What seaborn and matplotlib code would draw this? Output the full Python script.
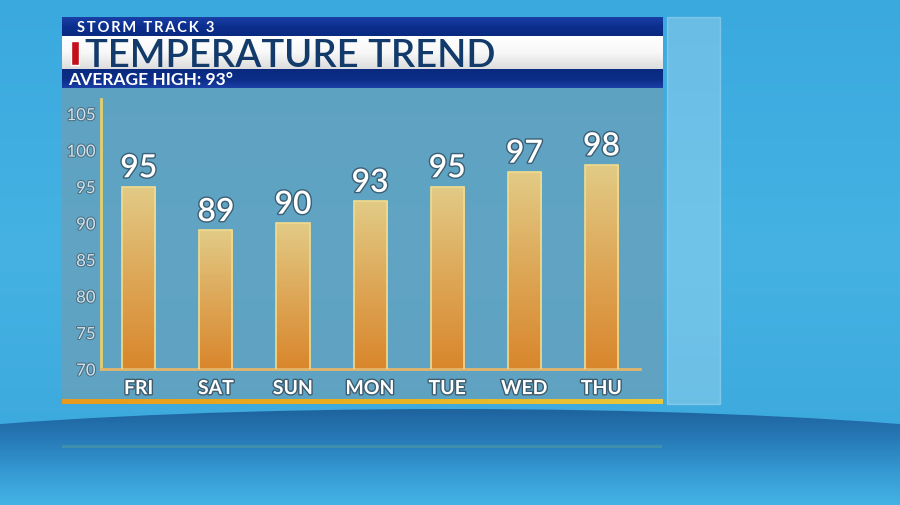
import numpy as np
import pandas as pd
import matplotlib
matplotlib.use("Agg")
import matplotlib.pyplot as plt
import matplotlib.patheffects as pe
from matplotlib.colors import LinearSegmentedColormap
from matplotlib.patches import Rectangle, Ellipse
import seaborn as sns

# data
days = ["FRI", "SAT", "SUN", "MON", "TUE", "WED", "THU"]
highs = [95, 89, 90, 93, 95, 97, 98]
yticks = [70, 75, 80, 85, 90, 95, 100, 105]
title = "TEMPERATURE TREND"
station = "STORM TRACK 3"
subtitle = "AVERAGE HIGH: 93\u00b0"

df = pd.DataFrame({"day": days, "high": highs})

sns.set_style("white")
plt.rcParams["font.family"] = ["Lato", "DejaVu Sans"]

W, H = 900, 506
fig = plt.figure(figsize=(9, 5.06), dpi=100)

def fx(px):
    return px / W

def fy(py):
    return 1 - py / H

def vgrad(a, cols, extent, z, clip=None):
    cm = LinearSegmentedColormap.from_list("g", cols)
    im = a.imshow(np.linspace(0, 1, 256).reshape(-1, 1), aspect="auto", cmap=cm,
                  extent=extent, zorder=z)
    if clip is not None:
        im.set_clip_path(clip)
    return im

def hgrad(a, cols, extent, z):
    cm = LinearSegmentedColormap.from_list("h", cols)
    return a.imshow(np.linspace(0, 1, 256).reshape(1, -1), aspect="auto", cmap=cm,
                    extent=extent, zorder=z)

# background water
bg = fig.add_axes([0, 0, 1, 1])
bg.set_xlim(0, W)
bg.set_ylim(H, 0)
bg.axis("off")
vgrad(bg, ["#3aa9de", "#45b2e3", "#3aa6dc"], [0, W, H, 0], 0)
# floor
ell = Ellipse((450, 475), 1408, 130, facecolor="none", edgecolor="none")
bg.add_patch(ell)
vgrad(bg, ["#1d609a", "#2679b6", "#3599d2", "#45b3e6"], [0, W, H, 405], 1, clip=ell)
bg.add_patch(Rectangle((62, 446), 600, 3, facecolor="#6aa98a", edgecolor="none",
                       alpha=0.35, zorder=2))

# side glass
bg.add_patch(Rectangle((667, 18), 53, 387, facecolor="#d8eef8", alpha=0.3,
                       edgecolor="#e4f4fb", lw=1, zorder=2))
# chart panel
bg.add_patch(Rectangle((62, 89), 601, 316, facecolor="#6a9fb8", edgecolor="none",
                       alpha=0.75, zorder=2))
hgrad(bg, ["#e89a1c", "#eab020", "#e9c83a"], [62, 663, 405, 400], 3)
# header bars
vgrad(bg, ["#1a3fa6", "#0c2f8e", "#0a2a80"], [62, 663, 37, 18], 3)
vgrad(bg, ["#ffffff", "#f8f8f8", "#dcdcdc"], [62, 663, 70, 37], 3)
vgrad(bg, ["#0a2a80", "#0b2d86", "#1a3fa6"], [62, 663, 89, 70], 3)
bg.add_patch(Rectangle((71, 42), 8, 24, facecolor="#c4101a", zorder=4))
bg.text(77, 28, "\u2009".join(station), color="white", fontsize=10.5, fontweight="bold",
        va="center", ha="left", zorder=5)
bg.text(85, 56, title, color="#123b6b", fontsize=27.5, fontweight="semibold",
        va="center", ha="left", zorder=5)
bg.text(68, 80, subtitle, color="white", fontsize=12.5, fontweight="bold",
        va="center", ha="left", zorder=5)

# bar chart
ax = fig.add_axes([fx(101), fy(370), fx(640) - fx(101), (370 - 100) / H])
ax.patch.set_alpha(0)
sns.barplot(data=df, x="day", y="high", order=days, width=0.43, ax=ax,
            color="#e0a14a", edgecolor="#f2dc8e", linewidth=1.2)
ax.set_ylim(70, 107)
ax.set_xlim(-0.49, 6.5)

for p in ax.patches:
    x0 = p.get_x()
    x1 = x0 + p.get_width()
    h = p.get_height()
    vgrad(ax, ["#e2cb86", "#dda757", "#d9862c"], [x0, x1, 70, h], 2, clip=p)
    p.set_zorder(3)
    p.set_facecolor("none")
    ax.text(p.get_x() + p.get_width() / 2, h + 0.45, f"{h:.0f}", ha="center", va="bottom",
            color="white", fontsize=23, fontweight="semibold", zorder=4,
            path_effects=[pe.withStroke(linewidth=2, foreground="#3b5f74")])
ax.set_xlim(-0.49, 6.5)
ax.set_ylim(70, 107)

ax.set_yticks(yticks)
ax.set_yticklabels([str(t) for t in yticks])
ax.set_xlabel("")
ax.set_ylabel("")
for s in ["top", "right"]:
    ax.spines[s].set_visible(False)
ax.spines["left"].set_color("#e6cf6a")
ax.spines["left"].set_linewidth(2)
ax.spines["bottom"].set_color("#e3b56b")
ax.spines["bottom"].set_linewidth(2)
ax.tick_params(axis="y", direction="in", length=4, width=1.5, color="#e6cf6a",
               labelsize=12, labelcolor="#d2e3ec", pad=4)
ax.tick_params(axis="x", length=0, labelsize=14, labelcolor="white", pad=8)
for lab in ax.get_yticklabels():
    lab.set_path_effects([pe.withStroke(linewidth=1.5, foreground="#4d6f82")])
for lab in ax.get_xticklabels():
    lab.set_fontweight("bold")
    lab.set_path_effects([pe.withStroke(linewidth=2, foreground="#3d5c6e")])

fig.savefig("out.png", dpi=100)
